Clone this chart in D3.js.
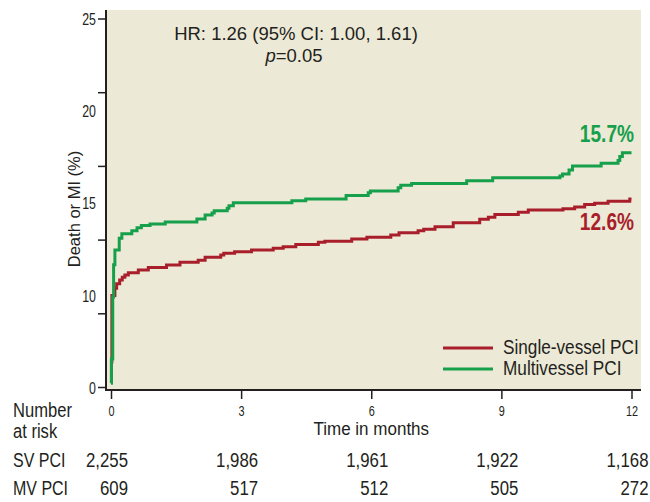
<!DOCTYPE html>
<html><head><meta charset="utf-8">
<script src="https://cdn.jsdelivr.net/npm/d3@7"></script>
<style>
body{margin:0;background:#fff}
svg{display:block}
text{font-family:"Liberation Sans",Arial,sans-serif}
</style>
</head><body>
<svg id="c" width="650" height="502"></svg>
<script>
// ---- data ----
const months = [0, 3, 6, 9, 12];
const yTickValues = [0, 5, 10, 15, 20, 25];
const yTickLabels = ["25", "20", "15", "10", "0"];
const seriesNames = ["Single-vessel PCI", "Multivessel PCI"];
const finalLabels = ["12.6%", "15.7%"];
const svTime = [0, 0.01, 0.02, 0.09, 0.13, 0.2, 0.26, 0.32, 0.4, 0.63, 0.86, 1.28, 1.59, 2.01, 2.17, 2.53, 2.6, 2.85, 3.24, 3.74, 3.97, 4.26, 4.78, 4.93, 5.55, 5.9, 6.45, 6.64, 7.08, 7.21, 7.47, 7.89, 8.5, 8.7, 8.85, 9.39, 9.62, 10.42, 10.69, 10.92, 11.15, 11.46, 11.96, 12];
const svRate = [0.3, 1.7, 6.2, 6.7, 7.0, 7.26, 7.44, 7.6, 7.75, 7.94, 8.1, 8.28, 8.46, 8.6, 8.8, 8.95, 9.07, 9.18, 9.3, 9.41, 9.52, 9.66, 9.82, 9.89, 10.04, 10.16, 10.31, 10.47, 10.6, 10.7, 10.88, 11.15, 11.38, 11.52, 11.7, 11.86, 12.0, 12.1, 12.22, 12.38, 12.46, 12.6, 12.76, 12.76];
const mvTime = [0, 0.01, 0.04, 0.06, 0.09, 0.19, 0.25, 0.48, 0.6, 0.7, 0.9, 1.25, 1.98, 2.17, 2.33, 2.38, 2.68, 2.72, 2.82, 4.17, 4.49, 5.42, 5.93, 5.98, 6.62, 6.68, 6.93, 8.2, 8.8, 10.35, 10.41, 10.56, 10.64, 11.3, 11.69, 11.73, 11.79, 12];
const mvRate = [0.25, 1.9, 6.1, 8.3, 9.3, 10.1, 10.4, 10.6, 10.8, 10.95, 11.06, 11.2, 11.4, 11.67, 11.8, 11.96, 12.12, 12.3, 12.5, 12.63, 12.75, 13.0, 13.17, 13.3, 13.52, 13.68, 13.8, 14.0, 14.2, 14.31, 14.45, 14.72, 15.0, 15.18, 15.36, 15.63, 15.9, 15.9];
const svAtRisk = [2255, 1986, 1961, 1922, 1168];
const mvAtRisk = [609, 517, 512, 505, 272];
const rowLabels = ["SV PCI", "MV PCI"];

// ---- style ----
const RED = "#a81f2b", GREEN = "#16a04b", BG = "#ece9d6", INK = "#231f20";
const svg = d3.select("#c");
const plot = {left: 106, right: 641, top: 10, bottom: 390};
const x = d3.scaleLinear().domain([0, 12]).range([111, 631.5]);
const y = d3.scaleLinear().domain([0, 25]).range([387, 18.5]);
const yLab = d3.scalePoint().domain(yTickLabels).range([19, 387.7]);

function txt(parent, str, tx, ty, size, sx, anchor, color, weight) {
  return parent.append("text")
    .attr("transform", `translate(${tx},${ty}) scale(${sx},1)`)
    .attr("font-size", size)
    .attr("text-anchor", anchor || "start")
    .attr("font-weight", weight || "normal")
    .style("fill", color || INK)
    .text(str);
}

// background
svg.append("rect").attr("x", plot.left).attr("y", plot.top)
  .attr("width", plot.right - plot.left).attr("height", plot.bottom - plot.top)
  .attr("fill", BG);

// lines
const line = d3.line().curve(d3.curveStepAfter).x(d => x(d[0])).y(d => y(d[1]));
const svData = svTime.map((t, i) => [t, svRate[i]]);
const mvData = mvTime.map((t, i) => [t, mvRate[i]]);
svg.append("path").attr("d", line(svData)).attr("fill", "none")
  .attr("stroke", RED).attr("stroke-width", 3);
svg.append("path").attr("d", line(mvData)).attr("fill", "none")
  .attr("stroke", GREEN).attr("stroke-width", 3);

// x axis
const gx = svg.append("g").attr("transform", `translate(0,${plot.bottom})`)
  .call(d3.axisBottom(x).tickValues(months).tickSize(9).tickSizeOuter(0).tickFormat(d3.format("d")));
gx.select(".domain").remove();
gx.selectAll(".tick line").attr("stroke", INK).attr("stroke-width", 1.5);
gx.selectAll(".tick text").attr("y", 0).attr("dy", 0)
  .attr("transform", "translate(0,26) scale(0.75,1)")
  .attr("font-size", 14.5).attr("font-family", "Liberation Sans, Arial, sans-serif").style("fill", INK);

// y axis ticks
const gy = svg.append("g").attr("transform", `translate(${plot.left},0)`)
  .call(d3.axisLeft(y).tickValues(yTickValues).tickSize(8).tickSizeOuter(0).tickFormat(""));
gy.select(".domain").remove();
gy.selectAll(".tick line").attr("stroke", INK).attr("stroke-width", 1.5);

// y axis labels (as printed)
const gyl = svg.append("g").attr("transform", "translate(96,0)")
  .call(d3.axisLeft(yLab).tickSize(0).tickPadding(0));
gyl.select(".domain").remove();
gyl.selectAll(".tick text").attr("x", 0).attr("dy", "0.34em")
  .attr("transform", "scale(0.75,1)")
  .attr("font-size", 16.5).attr("font-family", "Liberation Sans, Arial, sans-serif").style("fill", INK);

// axis lines
svg.append("line").attr("x1", plot.left).attr("x2", plot.left).attr("y1", plot.top).attr("y2", plot.bottom + 1)
  .attr("stroke", INK).attr("stroke-width", 2);
svg.append("line").attr("x1", plot.left - 1).attr("x2", plot.right).attr("y1", plot.bottom).attr("y2", plot.bottom)
  .attr("stroke", INK).attr("stroke-width", 2);

// titles
txt(svg, "Time in months", x(6), 435, 18.5, 0.92, "middle");
svg.append("text").attr("transform", "translate(80,209) rotate(-90)")
  .attr("font-size", 16.5).attr("text-anchor", "middle").style("fill", INK).text("Death or MI (%)");

// HR annotation
txt(svg, "HR: 1.26 (95% CI: 1.00, 1.61)", 296, 39.5, 18.5, 1, "middle");
const pt = svg.append("text").attr("x", 294).attr("y", 61.5).attr("font-size", 18.5)
  .attr("text-anchor", "middle").style("fill", INK);
pt.append("tspan").attr("font-style", "italic").text("p");
pt.append("tspan").text("=0.05");

// end labels
txt(svg, finalLabels[1], 634, 141.7, 23.3, 0.82, "end", GREEN, "bold");
txt(svg, finalLabels[0], 634, 230, 23.3, 0.82, "end", RED, "bold");

// legend
const legY = [348, 369], legCol = [RED, GREEN];
seriesNames.forEach((n, i) => {
  svg.append("line").attr("x1", 443).attr("x2", 493).attr("y1", legY[i]).attr("y2", legY[i])
    .attr("stroke", legCol[i]).attr("stroke-width", 3);
  txt(svg, n, 503, legY[i] + 5.5, 20, 0.86, "start");
});

// risk table
txt(svg, "Number", 13, 417, 19.5, 0.85, "start");
txt(svg, "at risk", 13, 438, 19.5, 0.85, "start");
const fmt = d3.format(",");
[svAtRisk, mvAtRisk].forEach((arr, r) => {
  const by = r === 0 ? 467 : 495;
  txt(svg, rowLabels[r], 13, by, 20.5, 0.78, "start");
  arr.forEach((v, i) => {
    txt(svg, fmt(v), x(months[i]) + 17, by, 21, 0.8, "end");
  });
});
</script>
</body></html>
